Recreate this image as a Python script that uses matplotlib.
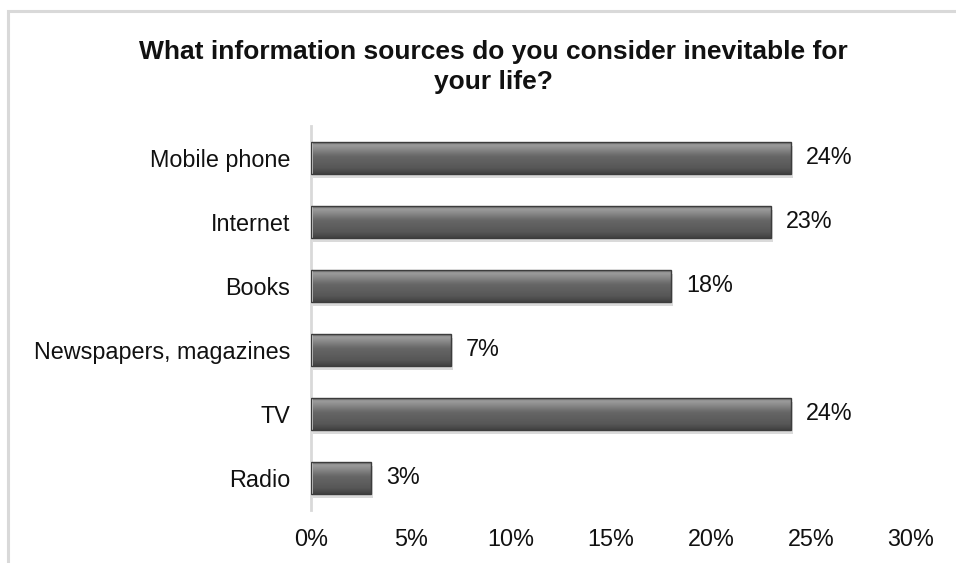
import numpy as np
import matplotlib.pyplot as plt
from matplotlib.patches import Rectangle
from matplotlib.ticker import FuncFormatter

plt.rcParams["font.family"] = ["Liberation Sans", "DejaVu Sans"]

categories = ["Mobile phone", "Internet", "Books", "Newspapers, magazines", "TV", "Radio"]
values = [24, 23, 18, 7, 24, 3]
xticks = [0, 5, 10, 15, 20, 25, 30]
title = "What information sources do you consider inevitable for\nyour life?"

fig = plt.figure(figsize=(9.56, 5.63), dpi=100)
ax = fig.add_axes([311 / 956, 1 - 510 / 563, 600 / 956, 384 / 563])

# outer chart frame (light gray, runs off the right/bottom edge)
fig.patches.append(Rectangle((8 / 956, -0.2), 1.2, 1 - 11 / 563 + 0.2,
                             transform=fig.transFigure, fill=False,
                             edgecolor="#d9d9d9", linewidth=2.2, zorder=0))

ypos = np.arange(len(categories))[::-1]
h = 0.5

# vertical gradient for the bevelled bars (top light -> bottom dark)
grad = np.concatenate([
    np.linspace(0.42, 0.60, 3),
    np.linspace(0.60, 0.42, 10),
    np.linspace(0.40, 0.34, 12),
    np.linspace(0.32, 0.26, 5),
]).reshape(-1, 1)

for y, v in zip(ypos, values):
    # soft shadow
    ax.add_patch(Rectangle((0.08, y - h / 2 - 0.07), v, h, facecolor="#dadada",
                           edgecolor="none", zorder=1))
    ax.imshow(grad, cmap="gray", vmin=0, vmax=1, aspect="auto",
              extent=(0, v, y - h / 2, y + h / 2), zorder=2, interpolation="bicubic")
    ax.add_patch(Rectangle((0, y - h / 2), v, h, facecolor="none",
                           edgecolor="#3c3c3c", linewidth=1.0, zorder=3))
    ax.text(v + 0.75, y, f"{v}%", va="center", ha="left", fontsize=16.8, color="#111111")

ax.set_xlim(0, 30)
ax.set_ylim(-0.5, len(categories) - 0.5)
ax.set_yticks(ypos)
ax.set_yticklabels(categories, fontsize=16.8, color="#111111")
ax.set_xticks(xticks)
ax.xaxis.set_major_formatter(FuncFormatter(lambda x, _: f"{x:.0f}%"))
ax.tick_params(axis="x", labelsize=16.8, colors="#111111", length=0, pad=13)
ax.tick_params(axis="y", length=0, pad=15)
for s in ["top", "right", "bottom"]:
    ax.spines[s].set_visible(False)
ax.spines["left"].set_color("#d9d9d9")
ax.spines["left"].set_linewidth(2)
ax.set_zorder(1)

fig.text(493 / 956, 1 - 67 / 563, title, ha="center", va="center", fontsize=19,
         fontweight="bold", color="#111111", linespacing=1.28)

fig.savefig("out.png", dpi=100)
